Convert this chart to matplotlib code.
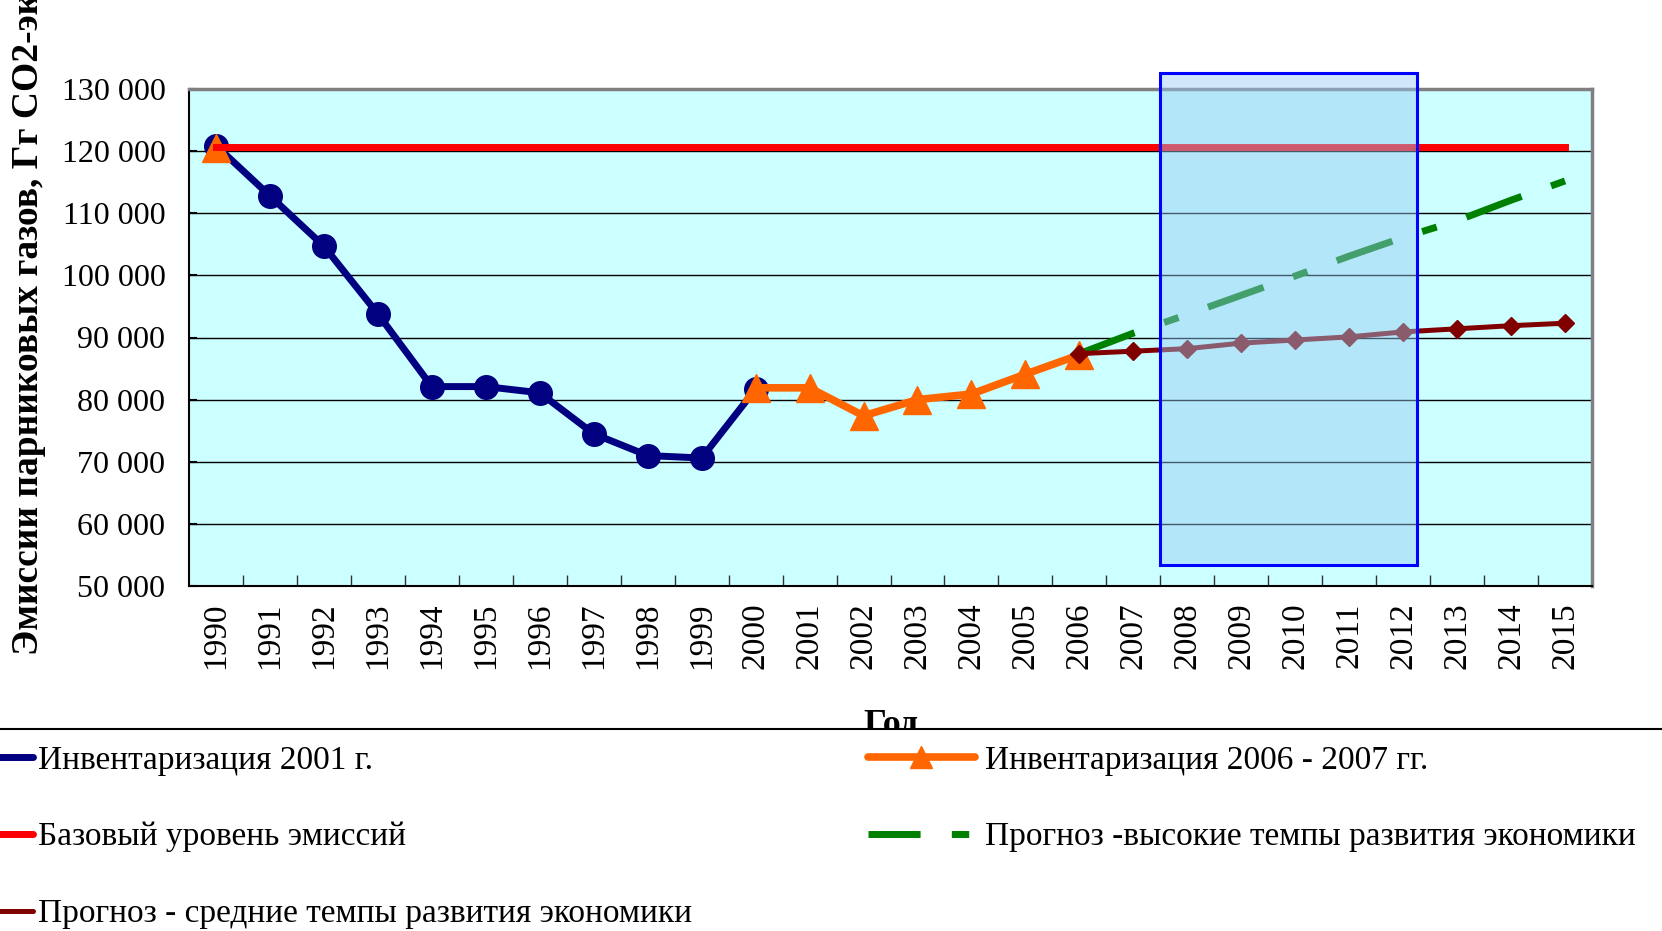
import numpy as np
import matplotlib
matplotlib.use("Agg")
import matplotlib.pyplot as plt
from matplotlib.lines import Line2D
from matplotlib.patches import Rectangle
from matplotlib.ticker import FuncFormatter, MultipleLocator

plt.rcParams['font.family'] = ['Liberation Serif', 'DejaVu Serif']

# data
years = list(range(1990, 2016))
inv2001_years = list(range(1990, 2001))
inv2001 = [120900, 112800, 104700, 93800, 82100, 82100, 81100, 74500, 71000, 70600, 81700]
inv2006_years = [1990, 2000, 2001, 2002, 2003, 2004, 2005, 2006]
inv2006 = [120500, 81900, 81900, 77400, 80000, 80900, 84100, 87200]
base_level = [120600] * len(years)
fc_years = list(range(2006, 2016))
fc_high = [87400, 90700, 93700, 96800, 99900, 103100, 106100, 108800, 112100, 115200]
fc_mid = [87400, 87800, 88200, 89100, 89600, 90100, 90900, 91400, 91900, 92300]
# highlighted period box (x in years, y in Gg)
period_x = (2007.5, 2012.25)
period_y = (53400, 132600)

labels = ['Инвентаризация 2001 г.',
          'Инвентаризация 2006 - 2007 гг.',
          'Базовый уровень эмиссий',
          'Прогноз -высокие темпы развития экономики',
          'Прогноз - средние темпы развития экономики']

W, H = 1662, 931
fig = plt.figure(figsize=(W / 100, H / 100), dpi=100)
ax = fig.add_axes([189 / W, 1 - 586 / H, 1403 / W, 497 / H])
ax.set_facecolor('#ccffff')

# inventory 2006-2007 has a gap between 1990 and 2000
x6 = np.insert(np.array(inv2006_years, dtype=float), 1, np.nan)
y6 = np.insert(np.array(inv2006, dtype=float), 1, np.nan)

ax.plot(inv2001_years, inv2001, color='#000080', lw=5, marker='o', ms=17, zorder=2)
ax.plot(x6, y6, color='#ff6600', lw=5.5, marker='^', ms=20, zorder=3)
ax.plot(fc_years, fc_high, color='#008000', lw=5, linestyle=(0, (8.5, 4.5, 2.2, 4.5)), zorder=4)
ax.plot(fc_years, fc_mid, color='#800000', lw=3.6, marker='D', ms=9, zorder=5)
ax.plot(years, base_level, color='#ff0000', lw=5, zorder=6)

rect = Rectangle((period_x[0], period_y[0]), period_x[1] - period_x[0], period_y[1] - period_y[0],
                 facecolor=(151 / 255, 200 / 255, 244 / 255, 0.45), edgecolor='#0000ff',
                 lw=2.2, zorder=7, clip_on=False)
ax.add_patch(rect)

ax.set_xlim(1989.5, 2015.5)
ax.set_ylim(50000, 130000)
ax.yaxis.set_major_locator(MultipleLocator(10000))
ax.yaxis.set_major_formatter(FuncFormatter(lambda v, p: f"{int(v):,}".replace(",", " ")))
ax.set_xticks(years)
ax.set_xticklabels([str(y) for y in years], rotation=90)
ax.set_xticks([y + 0.5 for y in years[:-1]], minor=True)
ax.tick_params(axis='x', which='major', length=0, pad=12, labelsize=24)
ax.tick_params(axis='x', which='minor', direction='in', length=8, width=1, color='#333333')
ax.tick_params(axis='y', direction='in', length=6, width=1.5, pad=17, labelsize=23)
ax.grid(axis='y', color='black', lw=1)
ax.set_axisbelow(True)
for side in ['top', 'right']:
    ax.spines[side].set_color('#808080')
    ax.spines[side].set_linewidth(2.5)
for side in ['left', 'bottom']:
    ax.spines[side].set_color('black')
    ax.spines[side].set_linewidth(1.5)

# axis titles; the y title runs past the top edge as in the original
fig.text(29 / W, 1 - 655 / H, 'Эмиссии парниковых газов, Гг СО2-эквивалента',
         rotation=90, ha='center', va='bottom', fontsize=27, fontweight='bold')
fig.text(891 / W, 1 - 733 / H, 'Год', ha='center', va='baseline', fontsize=26, fontweight='bold')

# legend box (larger than the figure, only its top edge shows)
box = Rectangle((-0.01, -0.01), 1.02, 0.01 + (1 - 729 / H), transform=fig.transFigure,
                facecolor='white', edgecolor='black', lw=1.5, zorder=10)
fig.add_artist(box)

h_blue = Line2D([], [], color='#000080', lw=5, solid_capstyle='round')
h_red = Line2D([], [], color='#ff0000', lw=5, solid_capstyle='round')
h_mid = Line2D([], [], color='#800000', lw=3.6, solid_capstyle='round')
h_orange = Line2D([], [], color='#ff6600', lw=5.5, marker='^', ms=16, solid_capstyle='round')
h_green = Line2D([], [], color='#008000', lw=5, linestyle=(0, (7.5, 4.5, 2.5, 20)))

leg1 = fig.legend([h_blue, h_red, h_mid], [labels[0], labels[2], labels[4]],
                  loc='upper left', bbox_to_anchor=(-0.004, 1 - 745 / H), frameon=False,
                  borderpad=0, borderaxespad=0, fontsize=24, handlelength=1.2,
                  handletextpad=0.15, labelspacing=1.39)
leg2 = fig.legend([h_orange, h_green], [labels[1], labels[3]],
                  loc='upper left', bbox_to_anchor=(868 / W, 1 - 745 / H), frameon=False,
                  borderpad=0, borderaxespad=0, fontsize=24, handlelength=3.2,
                  handletextpad=0.3, labelspacing=1.39)
leg1.set_zorder(11)
leg2.set_zorder(11)

fig.savefig('out.png', dpi=100)
